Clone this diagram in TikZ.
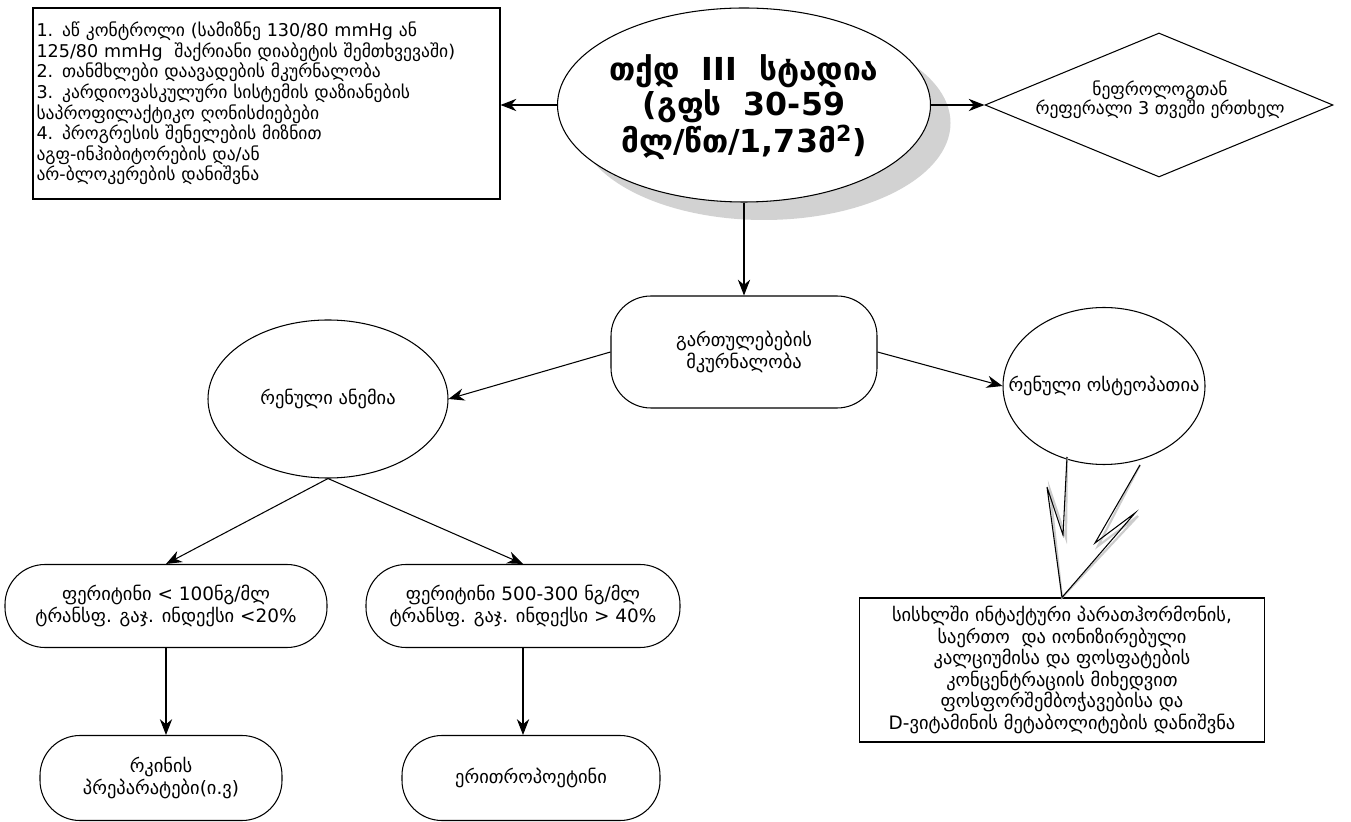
\documentclass[tikz,border=0pt]{standalone}
\usepackage{fontspec}
\setmainfont{DejaVu Sans}
\usetikzlibrary{shapes.geometric,shadows,arrows.meta}

\begin{document}
\begin{tikzpicture}[line width=0.6pt, >={Stealth[length=9pt,width=7pt]},
	every node/.style={font=\fontsize{10.5}{11}\selectfont, align=center},
	plainbox/.style={draw, rectangle, inner sep=2pt},
	roundbox/.style={draw, rectangle, rounded corners=0.8cm},
	oval/.style={draw, ellipse, inner sep=0pt}]

\useasboundingbox (0,0) rectangle (27.02,16.42);

% top row
\path (5.33,14.35) node[plainbox, minimum width=9.34cm, minimum height=3.82cm, text width=9.2cm, align=left, font=\fontsize{10}{10.6}\selectfont] (goals) {1. აწ კონტროლი (სამიზნე 130/80 mmHg ან\\125/80 mmHg \ შაქრიანი დიაბეტის შემთხვევაში)\\2. თანმხლები დაავადების მკურნალობა\\3. კარდიოვასკულური სისტემის დაზიანების\\საპროფილაქტიკო ღონისძიებები\\4. პროგრესის შენელების მიზნით\\აგფ-ინჰიბიტორების და/ან\\არ-ბლოკერების დანიშვნა};

\path (14.88,14.32) node[oval, fill=white, minimum width=7.46cm, minimum height=3.88cm, drop shadow={shadow xshift=0.4cm, shadow yshift=-0.36cm, fill=gray!35, draw=none, opacity=1}] (stage) {};
\path (14.88,14.28) node[font=\fontsize{18}{18}\selectfont\bfseries] (stagetext) {თქდ \ III \ სტადია\\(გფს \ 30-59\\მლ/წთ/1,73მ\textsuperscript{2})};

\path (23.18,14.32) node[draw, diamond, inner sep=0pt, minimum width=6.96cm, minimum height=2.88cm] (referral) {};
\path (23.2,14.42) node[font=\fontsize{10}{11}\selectfont] (referraltext) {ნეფროლოგთან\\რეფერალი 3 თვეში ერთხელ};

\draw [->] (stage.west) -- (stage.west -| goals.east);
\draw [->] (stage.east) -- (referral.west);

% complications
\path (14.88,9.38) node[roundbox, minimum width=5.32cm, minimum height=2.24cm] (treat) {გართულებების\\მკურნალობა};
\draw [->] (stage.south) -- (treat.north);

\path (6.56,8.44) node[oval, minimum width=4.8cm, minimum height=3.16cm] (anemia) {};
\path (anemia.center) node (anemiatext) {რენული ანემია};
\path (22.08,8.7) node[oval, minimum width=4.04cm, minimum height=3.14cm] (osteo) {};
\path (osteo.center) node (osteotext) {რენული ოსტეოპათია};

\draw [->] (treat.west) -- (anemia.east);
\draw [->] (treat.east) -- (osteo.west);

% anemia branch
\path (3.32,4.3) node[roundbox, minimum width=6.44cm, minimum height=1.66cm] (ferr1) {ფერიტინი < 100ნგ/მლ\\ტრანსფ. გაჯ. ინდექსი <20\%};
\path (10.46,4.3) node[roundbox, minimum width=6.28cm, minimum height=1.66cm] (ferr2) {ფერიტინი 500-300 ნგ/მლ\\ტრანსფ. გაჯ. ინდექსი > 40\%};
\draw [->] (anemia.south) -- (ferr1.north);
\draw [->] (anemia.south) -- (ferr2.north);

\path (3.22,0.86) node[roundbox, minimum width=4.84cm, minimum height=1.7cm] (iron) {რკინის\\პრეპარატები(ი.ვ)};
\path (10.62,0.86) node[roundbox, minimum width=5.16cm, minimum height=1.7cm] (epo) {ერითროპოეტინი};
\draw [->] (ferr1.south) -- (ferr1.south |- iron.north);
\draw [->] (ferr2.south) -- (ferr2.south |- epo.north);

% osteopathy branch
\path (21.24,3.02) node[plainbox, minimum width=8.1cm, minimum height=2.88cm] (pth) {სისხლში ინტაქტური პარათჰორმონის,\\საერთო \ და იონიზირებული\\კალციუმისა და ფოსფატების\\კონცენტრაციის მიხედვით\\ფოსფორშემბოჭავებისა და\\D-ვიტამინის მეტაბოლიტების დანიშვნა};

\coordinate (boltL) at (21.34,7.28);
\coordinate (boltR) at (22.8,7.12);
\draw [gray!40, line width=1.2pt, shift={(0.06,-0.06)}] (boltL) -- (21.26,5.72) -- (20.94,6.68) -- (pth.north) -- (22.7,6.16) -- (21.9,5.56) -- (boltR);
\draw (boltL) -- (21.26,5.72) -- (20.94,6.68) -- (pth.north) -- (22.7,6.16) -- (21.9,5.56) -- (boltR);

\end{tikzpicture}
\end{document}
